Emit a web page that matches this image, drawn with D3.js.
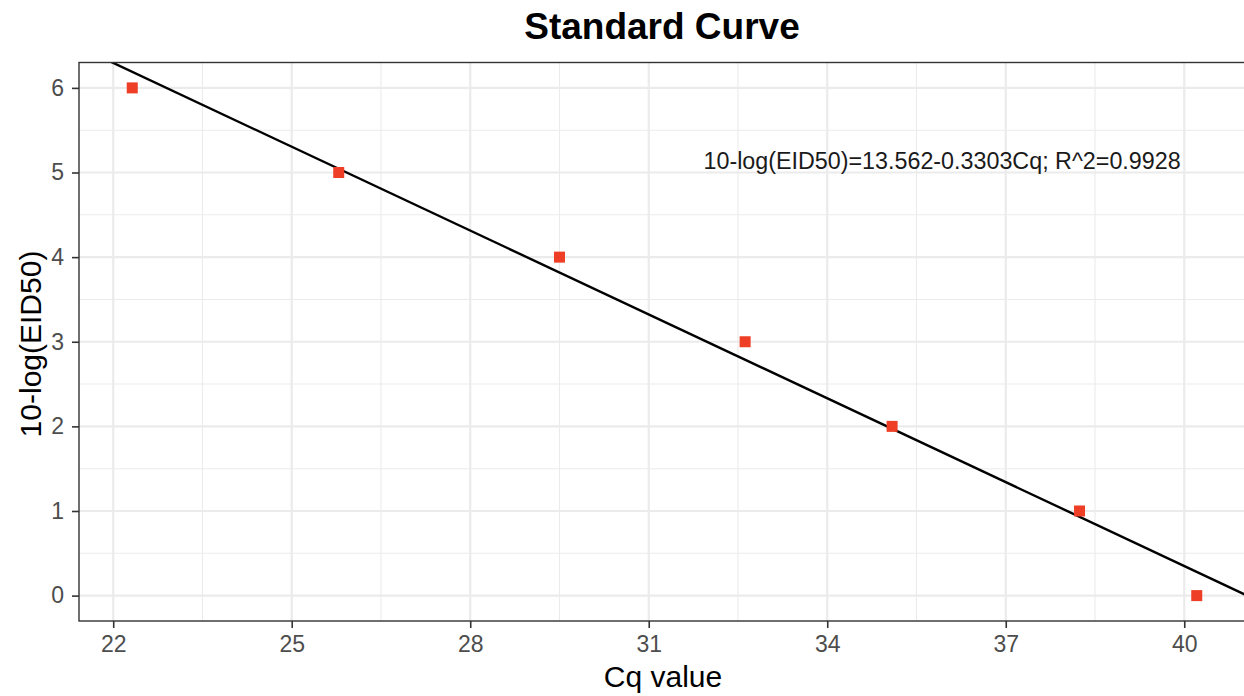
<!DOCTYPE html>
<html><head><meta charset="utf-8">
<script src="https://cdn.jsdelivr.net/npm/d3@7"></script>
<style>body{margin:0;background:#fff}svg{display:block}</style>
</head><body>
<svg id="c" width="1244" height="696"></svg>
<script>
const cq = [22.32, 25.79, 29.5, 32.62, 35.09, 38.24, 40.21];
const logEID = [6, 5, 4, 3, 2, 1, 0];
const xTicks = [22, 25, 28, 31, 34, 37, 40];
const yTicks = [0, 1, 2, 3, 4, 5, 6];
const intercept = 13.562, slope = -0.3303;
const eqLabel = "10-log(EID50)=13.562-0.3303Cq; R^2=0.9928";

const svg = d3.select("#c");
const L = 79, R = 1250, T = 62.5, B = 621;
const x = d3.scaleLinear().domain([21.425, 41.105]).range([L, R]);
const y = d3.scaleLinear().domain([-0.3, 6.3]).range([B, T]);
const font = "Liberation Sans, Arial, Helvetica, sans-serif";

svg.append("defs").append("clipPath").attr("id","clip")
  .append("rect").attr("x",L).attr("y",T).attr("width",R-L).attr("height",B-T);

const g = svg.append("g");
const xMinor = d3.range(20.5, 42, 3).filter(v=>v>x.domain()[0]&&v<x.domain()[1]);
const yMinor = d3.range(-0.5, 6.6, 1).filter(v=>v>y.domain()[0]&&v<y.domain()[1]);
g.selectAll(".xm").data(xMinor).enter().append("line")
  .attr("x1",d=>x(d)).attr("x2",d=>x(d)).attr("y1",T).attr("y2",B)
  .attr("stroke","#EBEBEB").attr("stroke-width",1.1);
g.selectAll(".ym").data(yMinor).enter().append("line")
  .attr("y1",d=>y(d)).attr("y2",d=>y(d)).attr("x1",L).attr("x2",R)
  .attr("stroke","#EBEBEB").attr("stroke-width",1.1);
g.selectAll(".xM").data(xTicks).enter().append("line")
  .attr("x1",d=>x(d)).attr("x2",d=>x(d)).attr("y1",T).attr("y2",B)
  .attr("stroke","#EBEBEB").attr("stroke-width",2.2);
g.selectAll(".yM").data(yTicks).enter().append("line")
  .attr("y1",d=>y(d)).attr("y2",d=>y(d)).attr("x1",L).attr("x2",R)
  .attr("stroke","#EBEBEB").attr("stroke-width",2.2);

const plot = svg.append("g").attr("clip-path","url(#clip)");
const xd = x.domain();
plot.append("line")
  .attr("x1",x(xd[0])).attr("y1",y(intercept+slope*xd[0]))
  .attr("x2",x(xd[1])).attr("y2",y(intercept+slope*xd[1]))
  .attr("stroke","#000").attr("stroke-width",2.4);

const pts = cq.map((c,i)=>({c, v:logEID[i]}));
const s = 11;
plot.selectAll(".pt").data(pts).enter().append("rect")
  .attr("x",d=>x(d.c)-s/2).attr("y",d=>y(d.v)-s/2)
  .attr("width",s).attr("height",s).attr("fill","#EE3E25");

svg.append("text").attr("x",x(35.93)).attr("y",y(5.14)).attr("dy","0.35em")
  .attr("text-anchor","middle").attr("font-family",font).attr("font-size",23.3)
  .attr("fill","#1a1a1a").text(eqLabel);

svg.append("rect").attr("x",L).attr("y",T).attr("width",R-L).attr("height",B-T)
  .attr("fill","none").attr("stroke","#333").attr("stroke-width",1.4);

const xa = svg.append("g").attr("transform",`translate(0,${B})`)
  .call(d3.axisBottom(x).tickValues(xTicks).tickSize(7).tickPadding(8).tickFormat(d3.format("d")));
const ya = svg.append("g").attr("transform",`translate(${L},0)`)
  .call(d3.axisLeft(y).tickValues(yTicks).tickSize(7).tickPadding(8).tickFormat(d3.format("d")));
[xa,ya].forEach(a=>{
  a.select(".domain").remove();
  a.selectAll(".tick line").attr("stroke","#333").attr("stroke-width",1.6);
  a.selectAll(".tick text").attr("fill","#4D4D4D").attr("font-family",font).attr("font-size",23);
});

svg.append("text").attr("x",662).attr("y",39).attr("text-anchor","middle")
  .attr("font-family",font).attr("font-weight","bold").attr("font-size",37).text("Standard Curve");
svg.append("text").attr("x",663).attr("y",687).attr("text-anchor","middle")
  .attr("font-family",font).attr("font-size",30).text("Cq value");
svg.append("text").attr("transform",`translate(41,344) rotate(-90)`).attr("text-anchor","middle")
  .attr("font-family",font).attr("font-size",30).text("10-log(EID50)");
</script>
</body></html>
